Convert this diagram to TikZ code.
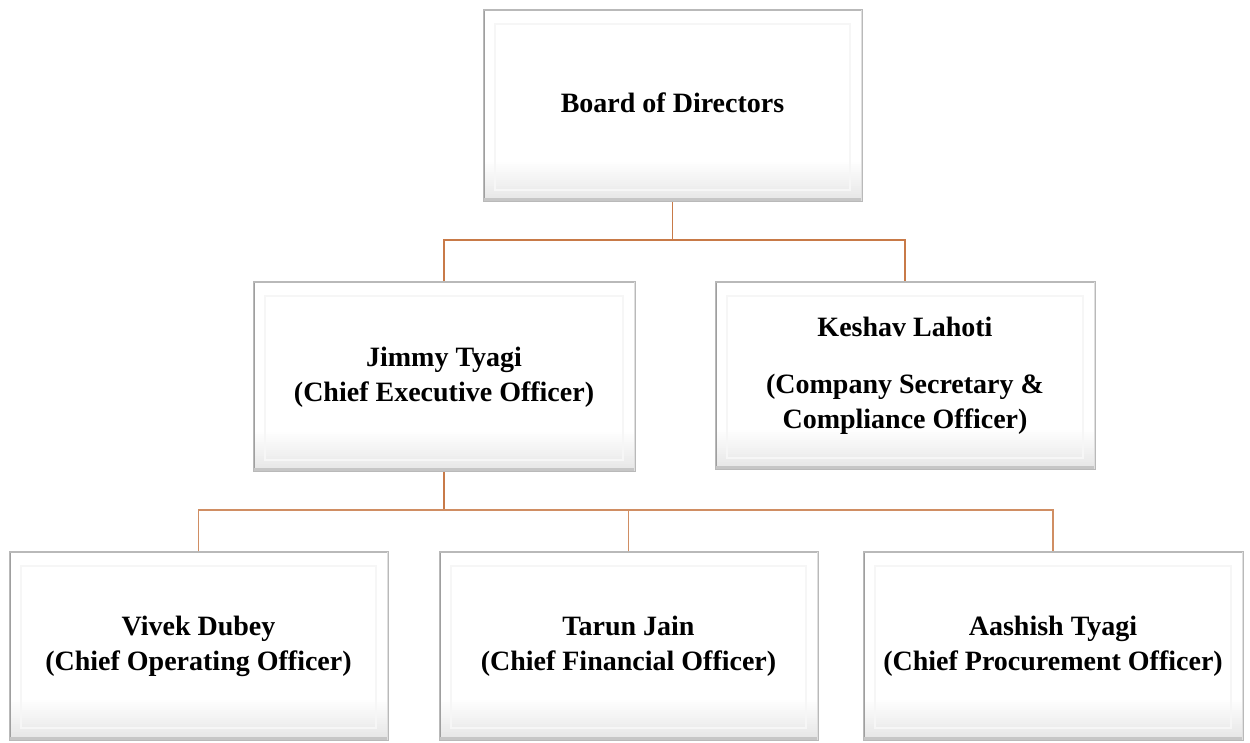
\documentclass[tikz,border=0pt]{standalone}
\usepackage{fontspec}
\setmainfont{Liberation Serif}
\definecolor{conncol}{RGB}{200,122,72}
\begin{document}
\begin{tikzpicture}[x=1pt,y=1pt,
  orgbox/.style={rectangle, fill=white, draw=gray!55, line width=1pt,
    align=center, inner sep=0pt,
    font=\fontsize{28}{35}\selectfont\bfseries,
    path picture={
      \foreach \i [evaluate=\i as \c using {20-\i}] in {0,...,19}
        \fill[gray!\c] ([yshift=\i*2pt]path picture bounding box.south west) rectangle ([yshift=\i*2pt+2.3pt]path picture bounding box.south east);
      \draw[gray!7, line width=2pt]
        ([shift={(12pt,12pt)}]path picture bounding box.south west) rectangle
        ([shift={(-12pt,-14pt)}]path picture bounding box.north east);
      \draw[gray!75, line width=3pt] (path picture bounding box.south west) -- (path picture bounding box.north west);
      \draw[gray!55, line width=3pt] (path picture bounding box.north west) -- (path picture bounding box.north east);
      \draw[gray!45, line width=7pt] (path picture bounding box.south west) -- (path picture bounding box.south east);
      \draw[gray!25, line width=3pt] (path picture bounding box.south east) -- (path picture bounding box.north east);
    }},
  conn/.style={draw=conncol, line width=1.7pt},
  connthin/.style={draw=conncol!85, line width=1.3pt}]
\useasboundingbox (0,0) rectangle (1250,742);

\node[orgbox, minimum width=379pt, minimum height=192pt] (board) at (672.5,636) {\raisebox{6pt}{Board of Directors}};
\node[orgbox, minimum width=382pt, minimum height=190pt] (jimmy) at (444,365) {Jimmy Tyagi\\(Chief Executive Officer)};
\node[orgbox, minimum width=380pt, minimum height=188pt] (keshav) at (905,366) {Keshav Lahoti\\[22pt](Company Secretary \&\\Compliance Officer)};
\node[orgbox, minimum width=379pt, minimum height=188pt] (vivek) at (198.5,96) {Vivek Dubey\\(Chief Operating Officer)};
\node[orgbox, minimum width=379pt, minimum height=188pt] (tarun) at (628.5,96) {Tarun Jain\\(Chief Financial Officer)};
\node[orgbox, minimum width=380pt, minimum height=188pt] (aashish) at (1053,96) {Aashish Tyagi\\(Chief Procurement Officer)};

\draw[conn] (board.south) -- (board.south |- 0,502) coordinate (b1);
\draw[conn] (jimmy.north) |- (b1) -| (keshav.north);
\draw[conn] (jimmy.south) -- (jimmy.south |- 0,232) coordinate (b2);
\draw[connthin] (vivek.north) |- (b2) -| (aashish.north);
\draw[connthin] (tarun.north) -- (tarun.north |- b2);
\end{tikzpicture}
\end{document}
